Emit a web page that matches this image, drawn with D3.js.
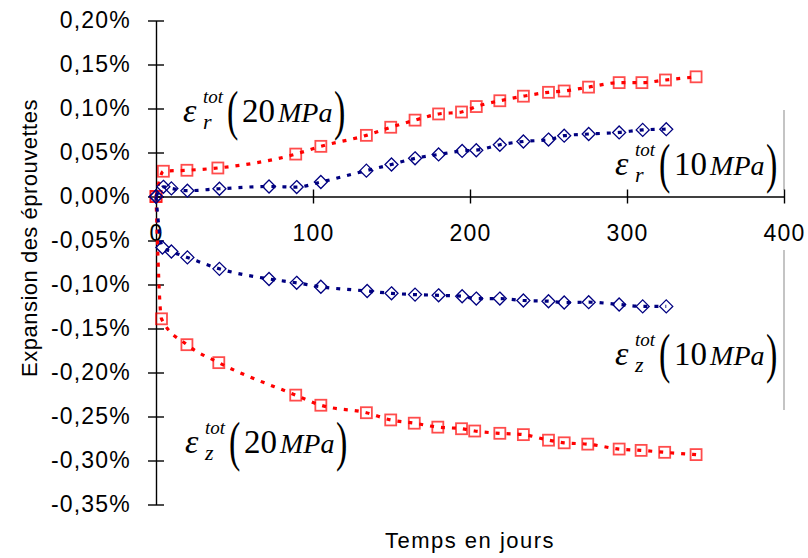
<!DOCTYPE html>
<html>
<head>
<meta charset="utf-8">
<script src="https://cdn.jsdelivr.net/npm/d3@7/dist/d3.min.js"></script>
<style>
  html, body { margin: 0; padding: 0; background: #fff; }
  svg { display: block; }
  .tick text { font-family: "Liberation Sans", Arial, sans-serif; font-size: 23px; fill: #000; letter-spacing: 1.2px; }
</style>
</head>
<body>
<svg id="chart" width="808" height="558"></svg>
<script>
// ---- data (days, expansion in %) ----
const xTicks = [0, 100, 200, 300, 400];
const yTicks = [0.20, 0.15, 0.10, 0.05, 0.00, -0.05, -0.10, -0.15, -0.20, -0.25, -0.30, -0.35];

// radial strain, 20 MPa (red squares)
const er20Days = [0, 4.7, 19.7, 39.4, 89, 105, 134, 149.5, 165, 180, 194.6, 204, 219, 234, 250, 260, 275.5, 295, 309.5, 324.5, 344];
const er20Vals = [0, 0.0287, 0.0298, 0.0324, 0.0482, 0.0570, 0.0695, 0.0787, 0.0868, 0.0938, 0.0960, 0.1022, 0.1088, 0.1140, 0.1184, 0.1199, 0.1243, 0.1294, 0.1294, 0.1324, 0.1360];

// radial strain, 10 MPa (blue diamonds)
const er10Days = [0, 4.7, 9.8, 20, 40.4, 72, 89.6, 105, 134, 150, 165, 180, 195, 204, 219, 234, 250, 260, 275.6, 295, 310, 325];
const er10Vals = [0, 0.0110, 0.0092, 0.0066, 0.0088, 0.0114, 0.0107, 0.0165, 0.0294, 0.0364, 0.0434, 0.0478, 0.0518, 0.0526, 0.0588, 0.0625, 0.0647, 0.0691, 0.0710, 0.0728, 0.0757, 0.0765];

// axial strain, 10 MPa (blue diamonds)
const ez10Days = [0, 4.1, 9.8, 20, 40.4, 72, 89.6, 105, 134.5, 150, 165, 180, 195, 204, 219, 234, 250, 260, 275.6, 295, 310, 325];
const ez10Vals = [0, -0.0580, -0.0625, -0.0692, -0.0822, -0.0937, -0.0981, -0.1026, -0.1074, -0.1100, -0.1115, -0.1123, -0.1134, -0.1160, -0.1160, -0.1182, -0.1190, -0.1205, -0.1201, -0.1227, -0.1249, -0.1249];

// axial strain, 20 MPa (red squares)
const ez20Days = [0, 3.5, 19.7, 40, 89, 105, 134, 149.5, 164.5, 179.5, 194.6, 203, 219, 234, 250, 260, 275, 295, 309, 324, 344];
const ez20Vals = [0, -0.1390, -0.1684, -0.1888, -0.2257, -0.2372, -0.2457, -0.2539, -0.2576, -0.2621, -0.2639, -0.2665, -0.2691, -0.2706, -0.2769, -0.2799, -0.2814, -0.2870, -0.2885, -0.2907, -0.2933];

// label anchors (day, %) for the annotations
const labels = [
  { sub: "r", num: "20", day: 17.2, val: 0.0849 },
  { sub: "r", num: "10", day: 292.4, val: 0.0244 },
  { sub: "z", num: "10", day: 292.4, val: -0.1915 },
  { sub: "z", num: "20", day: 18.5, val: -0.2915 }
];

const RED = "#ff0000";
const BLUE = "#000080";

const series = [
  { days: er20Days, vals: er20Vals, color: RED, marker: "square" },
  { days: ez20Days, vals: ez20Vals, color: RED, marker: "square" },
  { days: er10Days, vals: er10Vals, color: BLUE, marker: "diamond" },
  { days: ez10Days, vals: ez10Vals, color: BLUE, marker: "diamond" }
];

const svg = d3.select("#chart");

const x = d3.scaleLinear().domain([0, 400]).range([156, 784]);
const y = d3.scaleLinear().domain([-0.35, 0.20]).range([504.5, 20.5]);

const fmt = d => d.toFixed(2).replace(".", ",").replace("-0,00", "0,00") + "%";

// light frame edge at the right
svg.append("line").attr("x1", 784).attr("x2", 784).attr("y1", 110).attr("y2", 190)
  .attr("stroke", "#b0b0b0").attr("stroke-width", 1.5);
svg.append("line").attr("x1", 784).attr("x2", 784).attr("y1", 250).attr("y2", 410)
  .attr("stroke", "#b0b0b0").attr("stroke-width", 1.5);

// x axis through zero
const xAxis = svg.append("g")
  .attr("transform", `translate(0,${y(0)})`)
  .call(d3.axisBottom(x).tickValues(xTicks).tickSize(7).tickSizeOuter(0).tickPadding(21));
xAxis.selectAll(".tick line").attr("y1", -7).attr("y2", 7);

// y axis
const yAxis = svg.append("g")
  .attr("transform", `translate(${x(0)},0)`)
  .call(d3.axisLeft(y).tickValues(yTicks).tickFormat(fmt).tickSize(8).tickSizeOuter(0).tickPadding(17));
yAxis.selectAll(".tick line").attr("x1", -8).attr("x2", 8);

svg.selectAll(".domain, .tick line").attr("stroke", "#000").attr("stroke-width", 1.4);

// data lines
const line = d3.line().curve(d3.curveMonotoneX);
series.forEach(s => {
  const pts = s.days.map((d, i) => [x(d), y(s.vals[i])]);
  svg.append("path")
    .attr("d", line(pts))
    .attr("fill", "none")
    .attr("stroke", s.color)
    .attr("stroke-width", 3.2)
    .attr("stroke-dasharray", "4,7");
});

// markers
series.forEach(s => {
  const g = svg.append("g");
  const pts = s.days.map((d, i) => [x(d), y(s.vals[i])]);
  if (s.marker === "square") {
    g.selectAll("rect").data(pts).join("rect")
      .attr("x", d => d[0] - 5.5).attr("y", d => d[1] - 5.5)
      .attr("width", 11).attr("height", 11)
      .attr("fill", "none").attr("stroke", s.color).attr("stroke-opacity", 0.7).attr("stroke-width", 1.8);
  } else {
    g.selectAll("path").data(pts).join("path")
      .attr("d", d => `M${d[0]},${d[1] - 6.5}L${d[0] + 6.5},${d[1]}L${d[0]},${d[1] + 6.5}L${d[0] - 6.5},${d[1]}Z`)
      .attr("fill", "none").attr("stroke", s.color).attr("stroke-width", 1.3);
  }
});

// equation-style annotations: one text, pieces placed as tspans; parentheses stretched
function drawLabel(lb) {
  const x0 = x(lb.day), y0 = y(lb.val);
  const g = svg.append("g").attr("font-family", '"Liberation Serif", "Times New Roman", serif').attr("fill", "#000");
  const t = g.append("text").attr("x", x0).attr("y", y0);
  t.append("tspan").attr("x", x0).attr("y", y0).attr("font-size", 34).attr("font-style", "italic").text("ε");
  t.append("tspan").attr("x", x0 + 20).attr("y", y0 - 19).attr("font-size", 19).attr("font-style", "italic").text("tot");
  t.append("tspan").attr("x", x0 + 20).attr("y", y0 + 7).attr("font-size", 22).attr("font-style", "italic").text(lb.sub);
  t.append("tspan").attr("x", x0 + 59).attr("y", y0).attr("font-size", 33).text(lb.num);
  t.append("tspan").attr("x", x0 + 95).attr("y", y0).attr("font-size", 28).attr("font-style", "italic").text("MPa");
  g.append("text").attr("transform", `translate(${x0 + 44},${y0 + 7}) scale(1,1.6)`)
    .attr("font-size", 34).text("(");
  g.append("text").attr("transform", `translate(${x0 + 151},${y0 + 7}) scale(1,1.6)`)
    .attr("font-size", 34).text(")");
}
labels.forEach(drawLabel);

// axis titles
svg.append("text")
  .attr("transform", `translate(37,238) rotate(-90)`)
  .attr("text-anchor", "middle")
  .attr("font-family", '"Liberation Sans", Arial, sans-serif')
  .attr("font-size", 22)
  .attr("letter-spacing", 0.5)
  .text("Expansion des éprouvettes");

svg.append("text")
  .attr("x", (x(0) + x(400)) / 2)
  .attr("y", 548)
  .attr("text-anchor", "middle")
  .attr("font-family", '"Liberation Sans", Arial, sans-serif')
  .attr("font-size", 22)
  .attr("letter-spacing", 1.5)
  .text("Temps en jours");
</script>
</body>
</html>
